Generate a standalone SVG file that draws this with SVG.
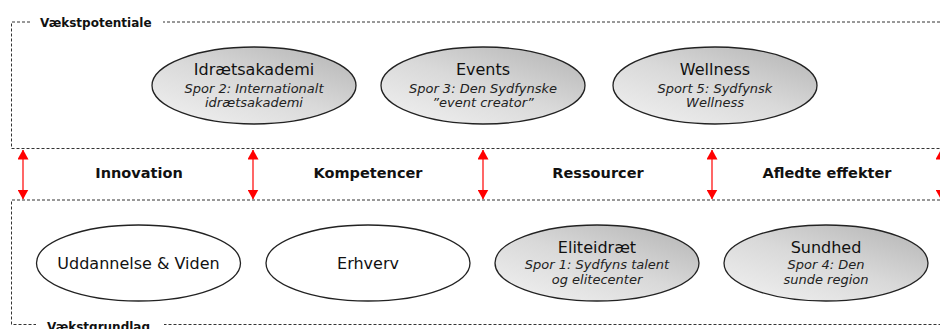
<svg xmlns="http://www.w3.org/2000/svg" width="940" height="329" viewBox="0 0 940 329">
<defs>
<linearGradient id="g" x1="0.15" y1="0.9" x2="0.85" y2="0.1">
<stop offset="0" stop-color="#ececec"/>
<stop offset="0.5" stop-color="#d9d9d9"/>
<stop offset="1" stop-color="#bcbcbc"/>
</linearGradient>
<marker id="ah" viewBox="0 0 10 10" refX="9.5" refY="5" markerWidth="10" markerHeight="11" markerUnits="userSpaceOnUse" orient="auto-start-reverse" preserveAspectRatio="none">
<path d="M0,0 L10,5 L0,10 z" fill="#ff0000"/>
</marker>
<style>
.box{fill:none;stroke:#333;stroke-width:1;stroke-dasharray:3 2}
.ell{fill:url(#g);stroke:#222;stroke-width:1.3}
.ellw{fill:#fff;stroke:#222;stroke-width:1.3}
.t{font-family:"DejaVu Sans",Verdana,sans-serif;font-size:16px;fill:#111;text-anchor:middle}
.s{font-family:"DejaVu Sans",Verdana,sans-serif;font-size:13px;font-style:italic;fill:#222;text-anchor:middle}
.b{font-family:"DejaVu Sans",Verdana,sans-serif;font-size:14.5px;font-weight:bold;fill:#111;text-anchor:middle}
.lbl{font-family:"DejaVu Sans",Verdana,sans-serif;font-size:12px;font-weight:bold;fill:#111}
.arr{stroke:#ff0000;stroke-width:1.2;fill:none;marker-start:url(#ah);marker-end:url(#ah)}
</style>
</defs>
<rect width="940" height="329" fill="#fff"/>
<g id="vaekstpotentiale">
<path class="box" d="M950,22 H11.5 V148.5 H950"/>
<rect x="32" y="14" width="131" height="16" fill="#fff"/>
<text class="lbl" x="40" y="26.5">Vækstpotentiale</text>
</g>
<g id="vaekstgrundlag">
<path class="box" d="M950,200 H11.5 V324.5 H950"/>
<rect x="36" y="318" width="128" height="14" fill="#fff"/>
<text class="lbl" x="47" y="330.5">Vækstgrundlag</text>
</g>
<g id="connectors">
<line class="arr" x1="23" y1="150" x2="23" y2="199"/>
<line class="arr" x1="253" y1="150" x2="253" y2="199"/>
<line class="arr" x1="483" y1="150" x2="483" y2="199"/>
<line class="arr" x1="712" y1="150" x2="712" y2="199"/>
<line class="arr" x1="941" y1="150" x2="941" y2="199"/>
</g>
<g id="labels">
<text class="b" x="139" y="178">Innovation</text>
<text class="b" x="368" y="178">Kompetencer</text>
<text class="b" x="598" y="178">Ressourcer</text>
<text class="b" x="827" y="178">Afledte effekter</text>
</g>
<g id="idraetsakademi">
<ellipse class="ell" cx="254" cy="85.5" rx="102" ry="38.5"/>
<text class="t" x="254" y="75">Idrætsakademi</text>
<text class="s" x="254" y="93">Spor 2: Internationalt</text>
<text class="s" x="254" y="107">idrætsakademi</text>
</g>
<g id="events">
<ellipse class="ell" cx="483" cy="85.5" rx="102" ry="38.5"/>
<text class="t" x="483" y="75">Events</text>
<text class="s" x="483" y="93">Spor 3: Den Sydfynske</text>
<text class="s" x="483" y="107">”event creator”</text>
</g>
<g id="wellness">
<ellipse class="ell" cx="715" cy="85.5" rx="102" ry="38.5"/>
<text class="t" x="715" y="75">Wellness</text>
<text class="s" x="715" y="93">Sport 5: Sydfynsk</text>
<text class="s" x="715" y="107">Wellness</text>
</g>
<g id="uddannelse">
<ellipse class="ellw" cx="138.5" cy="263" rx="102" ry="38"/>
<text class="t" x="138.5" y="268.5">Uddannelse &amp; Viden</text>
</g>
<g id="erhverv">
<ellipse class="ellw" cx="368" cy="263" rx="102" ry="38"/>
<text class="t" x="368" y="268.5">Erhverv</text>
</g>
<g id="eliteidraet">
<ellipse class="ell" cx="597" cy="263" rx="102" ry="38"/>
<text class="t" x="597" y="253">Eliteidræt</text>
<text class="s" x="597" y="269">Spor 1: Sydfyns talent</text>
<text class="s" x="597" y="284">og elitecenter</text>
</g>
<g id="sundhed">
<ellipse class="ell" cx="826" cy="263" rx="102" ry="38"/>
<text class="t" x="826" y="253">Sundhed</text>
<text class="s" x="826" y="269">Spor 4: Den</text>
<text class="s" x="826" y="284">sunde region</text>
</g>
</svg>
